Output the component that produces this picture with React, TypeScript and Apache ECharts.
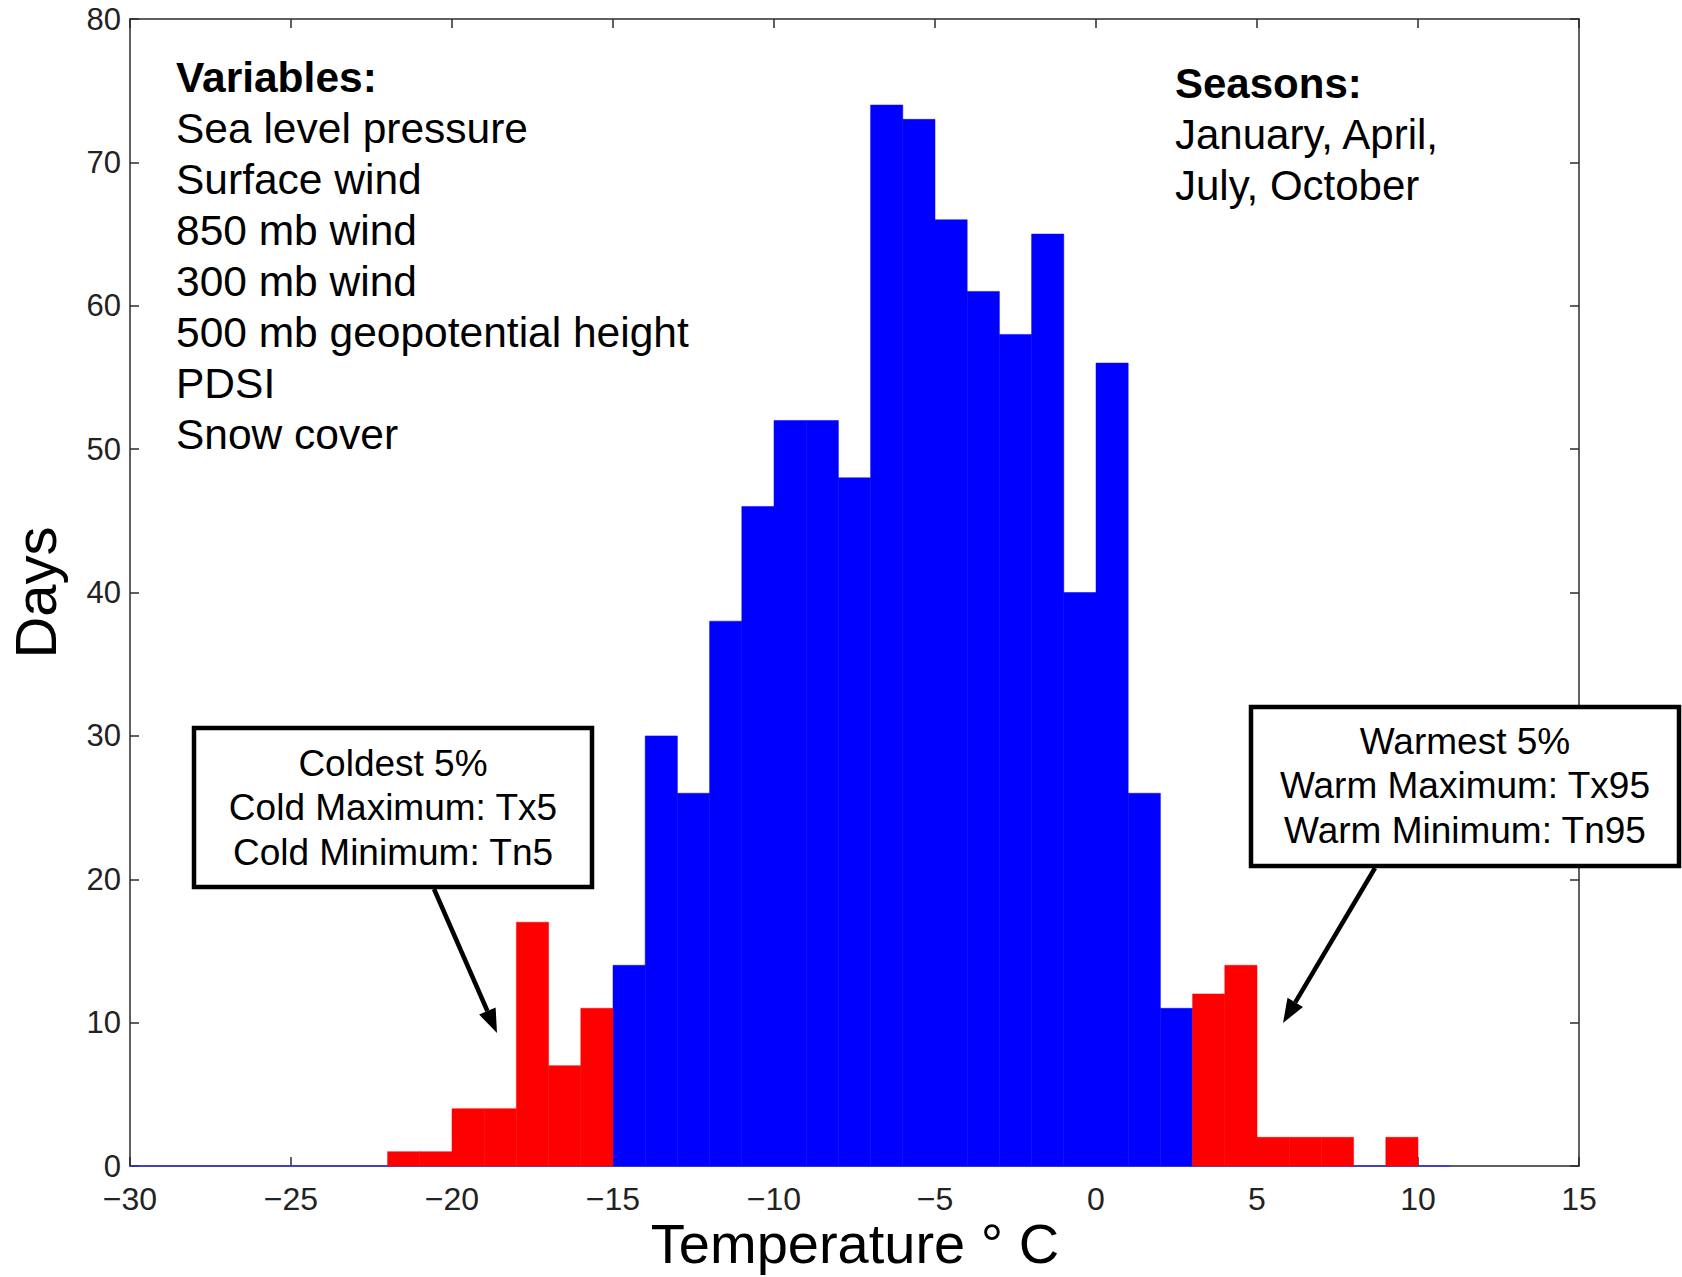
import React, { useEffect, useRef } from "react";
import * as echarts from "echarts";

// ---- data ----
const binWidth = 1;
const blueBinStarts = [-15, -14, -13, -12, -11, -10, -9, -8, -7, -6, -5, -4, -3, -2, -1, 0, 1, 2];
const blueCounts = [14, 30, 26, 38, 46, 52, 52, 48, 74, 73, 66, 61, 58, 65, 40, 56, 26, 11];
const coldBinStarts = [-22, -21, -20, -19, -18, -17, -16];
const coldCounts = [1, 1, 4, 4, 17, 7, 11];
const warmBinStarts = [3, 4, 5, 6, 7, 8, 9];
const warmCounts = [12, 14, 2, 2, 2, 0, 2];
const baselineEnds = [-30, 11];

const xMin = -30;
const xMax = 15;
const xStep = 5;
const yMin = 0;
const yMax = 80;
const yStep = 10;

const xTitle = "Temperature ° C";
const yTitle = "Days";

const variablesTitle = "Variables:";
const variablesList = [
  "Sea level pressure",
  "Surface wind",
  "850 mb wind",
  "300 mb wind",
  "500 mb geopotential height",
  "PDSI",
  "Snow cover",
];
const seasonsTitle = "Seasons:";
const seasonsList = ["January, April,", "July, October"];
const coldBoxLines = ["Coldest 5%", "Cold Maximum: Tx5", "Cold Minimum: Tn5"];
const warmBoxLines = ["Warmest 5%", "Warm Maximum: Tx95", "Warm Minimum: Tn95"];

const FONT = "'Liberation Sans', Arial, Helvetica, sans-serif";

function histRender(color: string) {
  return (params: any, api: any) => {
    const x0 = api.value(0);
    const y = api.value(1);
    if (!y) return null;
    const p0 = api.coord([x0, y]);
    const p1 = api.coord([x0 + binWidth, 0]);
    return {
      type: "rect",
      shape: { x: p0[0], y: p0[1], width: p1[0] - p0[0], height: p1[1] - p0[1] },
      style: { fill: color, stroke: color, lineWidth: 0.5 },
    };
  };
}

function arrow(x1: number, y1: number, x2: number, y2: number) {
  const dx = x2 - x1;
  const dy = y2 - y1;
  const len = Math.sqrt(dx * dx + dy * dy);
  const ux = dx / len;
  const uy = dy / len;
  const hl = 24;
  const hw = 9;
  const bx = x2 - ux * hl;
  const by = y2 - uy * hl;
  const px = -uy * hw;
  const py = ux * hw;
  return [
    {
      type: "line",
      shape: { x1, y1, x2: bx, y2: by },
      style: { stroke: "#000", lineWidth: 4.5 },
      z: 100,
    },
    {
      type: "polygon",
      shape: { points: [[x2, y2], [bx + px, by + py], [bx - px, by - py]] },
      style: { fill: "#000" },
      z: 100,
    },
  ];
}

function textLines(lines: string[], x: number, y0: number, dy: number, size: number, align: string, bold = false) {
  return lines.map((t, i) => ({
    type: "text",
    x,
    y: y0 + i * dy,
    z: 100,
    style: {
      text: t,
      fill: "#000",
      font: `${bold ? "bold " : ""}${size}px ${FONT}`,
      textAlign: align,
      textVerticalAlign: "middle",
    },
  }));
}

export default function App() {
  const ref = useRef<HTMLDivElement>(null);
  useEffect(() => {
    if (!ref.current) return;
    const chart = echarts.init(ref.current, null, { renderer: "svg" });
    const axisLineStyle = { color: "#2b2b2b", width: 1.5 };
    const fmt = (v: number) => String(v).replace("-", "\u2212");
    const option: any = {
      animation: false,
      backgroundColor: "#fff",
      grid: {
        left: 130,
        right: 103,
        top: 19,
        bottom: 111,
        containLabel: false,
        outerBoundsMode: "none",
      },
      xAxis: [
        {
          type: "value",
          min: xMin,
          max: xMax,
          interval: xStep,
          position: "bottom",
          axisLine: { show: true, onZero: false, lineStyle: axisLineStyle },
          axisTick: { show: true, inside: true, length: 9, lineStyle: axisLineStyle },
          axisLabel: {
            show: true,
            fontSize: 32,
            lineHeight: 26,
            color: "#222",
            fontFamily: FONT,
            margin: 20,
            formatter: fmt,
          },
          splitLine: { show: false },
        },
        {
          type: "value",
          min: xMin,
          max: xMax,
          interval: xStep,
          position: "top",
          axisLine: { show: true, onZero: false, lineStyle: axisLineStyle },
          axisTick: { show: true, inside: true, length: 9, lineStyle: axisLineStyle },
          axisLabel: { show: false },
          splitLine: { show: false },
        },
      ],
      yAxis: [
        {
          type: "value",
          min: yMin,
          max: yMax,
          interval: yStep,
          position: "left",
          axisLine: { show: true, onZero: false, lineStyle: axisLineStyle },
          axisTick: { show: true, inside: true, length: 9, lineStyle: axisLineStyle },
          axisLabel: {
            show: true,
            fontSize: 31,
            lineHeight: 24,
            color: "#222",
            fontFamily: FONT,
            margin: 9,
          },
          splitLine: { show: false },
          name: yTitle,
          nameLocation: "middle",
          nameGap: 66,
          nameTextStyle: { fontSize: 58, color: "#000", fontFamily: FONT },
        },
        {
          type: "value",
          min: yMin,
          max: yMax,
          interval: yStep,
          position: "right",
          axisLine: { show: true, onZero: false, lineStyle: axisLineStyle },
          axisTick: { show: true, inside: true, length: 9, lineStyle: axisLineStyle },
          axisLabel: { show: false },
          splitLine: { show: false },
        },
      ],
      series: [
        {
          type: "line",
          data: baselineEnds.map((x) => [x, 0]),
          symbol: "none",
          lineStyle: { color: "#3333ff", width: 1.5 },
          z: 3,
        },
        {
          type: "custom",
          renderItem: histRender("#0000ff"),
          data: blueBinStarts.map((x, i) => [x, blueCounts[i]]),
          encode: { x: 0, y: 1 },
          z: 4,
        },
        {
          type: "custom",
          renderItem: histRender("#ff0000"),
          data: coldBinStarts.map((x, i) => [x, coldCounts[i]]),
          encode: { x: 0, y: 1 },
          z: 5,
        },
        {
          type: "custom",
          renderItem: histRender("#ff0000"),
          data: warmBinStarts.map((x, i) => [x, warmCounts[i]]),
          encode: { x: 0, y: 1 },
          z: 5,
        },
      ],
      graphic: [
        ...textLines([xTitle], 855, 1243, 0, 56, "center"),
        ...textLines([variablesTitle], 176, 77, 51, 42.5, "left", true),
        ...textLines(variablesList, 176, 128, 51, 42.5, "left"),
        ...textLines([seasonsTitle], 1175, 83, 51, 42, "left", true),
        ...textLines(seasonsList, 1175, 134, 51, 42, "left"),
        {
          type: "rect",
          shape: { x: 194, y: 728, width: 398, height: 159 },
          style: { fill: "#fff", stroke: "#000", lineWidth: 4.5 },
          z: 90,
        },
        ...textLines(coldBoxLines, 393, 763, 44.5, 37, "center"),
        {
          type: "rect",
          shape: { x: 1251, y: 707, width: 428, height: 159 },
          style: { fill: "#fff", stroke: "#000", lineWidth: 4.5 },
          z: 90,
        },
        ...textLines(warmBoxLines, 1465, 741, 44.5, 37, "center"),
        ...arrow(434, 889, 497, 1033),
        ...arrow(1375, 868, 1283, 1023),
      ],
    };
    chart.setOption(option);
    return () => chart.dispose();
  }, []);
  return (
    <div
      ref={ref}
      style={{ position: "fixed", left: 0, top: 0, width: 1682, height: 1277, background: "#fff" }}
    />
  );
}
